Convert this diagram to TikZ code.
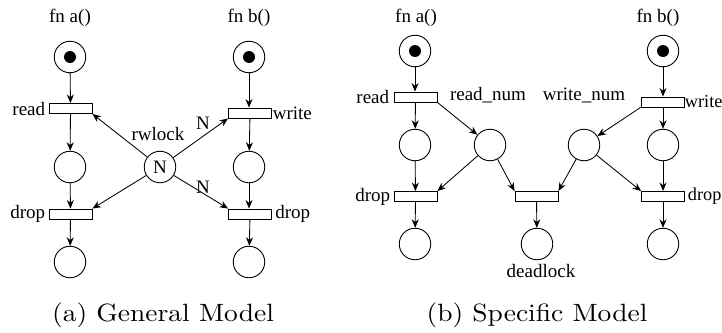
\documentclass[tikz,border=0pt]{standalone}
\usepackage{fontspec}
\newfontfamily\lbl{Liberation Serif}
\newfontfamily\capfont{lmroman10-regular.otf}
\usetikzlibrary{arrows.meta}
\begin{document}
\begin{tikzpicture}[x=1pt,y=-1pt,
  >={Stealth[length=8.5pt,width=7pt]},
  every path/.style={line width=0.85pt},
  place/.style={circle,draw,minimum size=31.5pt,inner sep=0pt,line width=0.9pt},
  trans/.style={rectangle,draw,minimum width=43pt,minimum height=10pt,inner sep=0pt,line width=0.9pt},
  tok/.style={circle,fill,minimum size=12pt,inner sep=0pt},
  lab/.style={font=\lbl\fontsize{19}{22}\selectfont,inner sep=0pt},
  edgelab/.style={font=\lbl\fontsize{18.3}{22}\selectfont,inner sep=0pt},
  captext/.style={font=\capfont\fontsize{25}{28}\selectfont,inner sep=0pt}]
\useasboundingbox (0,0) rectangle (722,332);
% ---------- (a) ----------
\node[lab] (fa) at (70,18) {fn a()};
\node[lab] (fb) at (249,18) {fn b()};
\node[place] (a1) at (70,57) {};
\node[tok] (a1t) at (a1) {};
\node[trans] (ar) at (70.5,108.5) {};
\node[lab,anchor=east] (arl) at ([xshift=-3pt]ar.west) {read};
\node[place] (a2) at (70,167) {};
\node[trans] (ad) at (70.5,214) {};
\node[lab,anchor=east] (adl) at ([xshift=-3pt]ad.west) {drop};
\node[place] (a3) at (70,262) {};
\node[place] (b1) at (249,57) {};
\node[tok] (b1t) at (b1) {};
\node[trans] (bw) at (250,113) {};
\node[lab,anchor=west] (bwl) at ([xshift=0.5pt]bw.east) {write};
\node[place] (b2) at (249,167) {};
\node[trans] (bd) at (250,214) {};
\node[lab,anchor=west] (bdl) at ([xshift=3pt]bd.east) {drop};
\node[place] (b3) at (249,262) {};
\node[place,font=\lbl\fontsize{19}{22}\selectfont] (rw) at (160,167) {N};
\node[lab] (rwl) at (158,134) {rwlock};
\node[lab] (n1) at (203,123) {N};
\node[lab] (n2) at (203,187) {N};
\draw[->] (a1) -- (ar);
\draw[->] (ar) -- (a2);
\draw[->] (a2) -- (ad);
\draw[->] (ad) -- (a3);
\draw[->] (b1) -- (b1|-bw.north);
\draw[->] (bw) -- (b2);
\draw[->] (b2) -- (b2|-bd.north);
\draw[->] (bd) -- (b3);
\draw[->] (rw) -- (ar.south east);
\draw[->] (rw) -- (bw.south west);
\draw[->] (rw) -- (ad.north east);
\draw[->] (rw) -- (bd.north west);
\node[captext] (ca) at (163,315) {\scalebox{1.1}[1]{(a) General Model}};
% ---------- (b) ----------
\node[lab] (ga) at (416,18) {fn a()};
\node[lab] (gb) at (658,18) {fn b()};
\node[place] (c1) at (415,51) {};
\node[tok] (c1t) at (c1) {};
\node[trans] (cr) at (415.5,97) {};
\node[lab,anchor=east] (crl) at ([xshift=-4pt]cr.west) {read};
\node[place] (c2) at (415,145) {};
\node[trans] (cd) at (415.5,196.5) {};
\node[lab,anchor=east] (cdl) at ([xshift=-3pt]cd.west) {drop};
\node[place] (c3) at (415,244) {};
\node[place] (rn) at (490,145) {};
\node[lab] (rnl) at (488,95) {read\_num};
\node[place] (wn) at (584,145) {};
\node[lab] (wnl) at (584,95) {write\_num};
\node[trans] (md) at (536.5,196.5) {};
\node[place] (dl) at (537,244) {};
\node[lab] (dll) at (541,271) {deadlock};
\node[place] (e1) at (663,51) {};
\node[tok] (e1t) at (e1) {};
\node[trans] (ew) at (662.5,102) {};
\node[edgelab,anchor=west] (ewl) at ([xshift=0pt]ew.east) {write};
\node[place] (e2) at (663,145) {};
\node[trans] (ed) at (663,196.5) {};
\node[edgelab,anchor=west] (edl) at ([xshift=2.5pt]ed.east) {drop};
\node[place] (e3) at (663,244) {};
\draw[->] (c1) -- (c1|-cr.north);
\draw[->] (cr) -- (c2);
\draw[->] (c2) -- (cd);
\draw[->] (cd) -- (c3);
\draw[->] (cr.south east) -- (rn);
\draw[->] (rn) -- (cd.north east);
\draw[->] (rn) -- (md.north west);
\draw[->] (wn) -- (md.north east);
\draw[->] (wn) -- (ed.north west);
\draw[->] (ew.south west) -- (wn);
\draw[->] (md) -- (dl);
\draw[->] (e1) -- (e1|-ew.north);
\draw[->] (e1|-ew.south) -- (e2);
\draw[->] (e2) -- (ed);
\draw[->] (ed) -- (e3);
\node[captext] (cb) at (537,315) {\scalebox{1.1}[1]{(b) Specific Model}};
\end{tikzpicture}
\end{document}
